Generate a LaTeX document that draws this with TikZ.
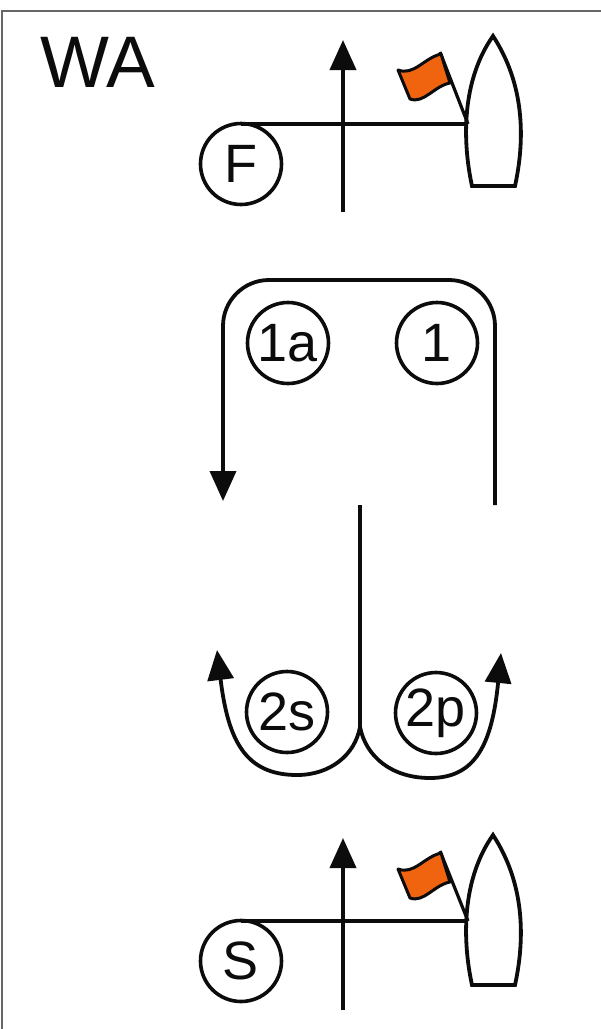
\documentclass[tikz,border=0pt]{standalone}
\usepackage{fontspec}
\setmainfont{Liberation Sans}
\usetikzlibrary{arrows.meta}
\definecolor{flagc}{RGB}{240,100,15}
\definecolor{inkc}{RGB}{12,12,12}
\tikzset{x=1pt,y=-1pt,
 line/.style={draw=inkc,line width=3.8pt},
 arr/.style={line,-{Triangle[length=30pt,width=26pt]}},
 circ/.style={circle,draw=inkc,line width=3.6pt,fill=white,minimum size=81pt,inner sep=0pt,text=inkc,font=\fontsize{54pt}{54pt}\selectfont},
 boat/.style={draw=inkc,line width=3.8pt,fill=white,line join=miter},
 flagp/.style={draw=inkc,line width=3pt,fill=flagc,line join=round},
 frameline/.style={draw=black!60,line width=2.4pt},
 }
\begin{document}
\begin{tikzpicture}
\useasboundingbox (0,0) rectangle (601,1029);
\fill[white] (0,0) rectangle (601,1029);
\draw[frameline] (2,1029) -- (2,11) -- (601,11);
\node[font=\fontsize{73pt}{73pt}\selectfont,text=inkc] (wa) at (98,62) {WA};
% top
\coordinate (t1) at (343,212); \coordinate (t2) at (343,40);
\draw[arr] (t1) -- (t2);
\coordinate (tb) at (468,124);
\node[circ] (F) at (241,164) {F};
\draw[line] (F.north |- tb) -- (tb);
\draw[boat] (472,186) .. controls (462,140) and (462,80) .. (493,36) .. controls (525,85) and (525,140) .. (515,186) -- cycle;
\draw[line,line width=3.2pt] (tb) -- (440,52);
\draw[flagp] (398,70) .. controls (414,76) and (424,58) .. (441,54) -- (450,83) .. controls (434,86) and (424,104) .. (410,99) -- cycle;
% middle
\coordinate (m1) at (495,505); \coordinate (m2) at (223,501);
\draw[arr,rounded corners=46pt] (m1) -- (495,280) -- (223,280) -- (m2);
\node[circ] (n1a) at (288,343) {1a};
\node[circ] (n1) at (437,343) {1};
\coordinate (c) at (360,505);
\coordinate (j) at (360,727);
\draw[line] (c) -- (j);
\draw[arr] (j) .. controls (355,755) and (330,775) .. (297,775) .. controls (245,775) and (228,740) .. (217,650);
\draw[arr] (j) .. controls (366,757) and (392,778) .. (430,778) .. controls (475,778) and (492,745) .. (501,653);
\node[circ] (n2s) at (287,712) {2s};
\node[circ] (n2p) at (436,713) {2p};
% bottom
\coordinate (b1) at (343,1010); \coordinate (b2) at (343,838);
\draw[arr] (b1) -- (b2);
\coordinate (bb) at (468,921);
\node[circ] (S) at (241,961) {S};
\draw[line] (S.north |- bb) -- (bb);
\draw[boat] (472,985) .. controls (462,939) and (462,879) .. (493,835) .. controls (525,884) and (525,939) .. (515,985) -- cycle;
\draw[line,line width=3.2pt] (bb) -- (440,851);
\draw[flagp] (398,869) .. controls (414,875) and (424,857) .. (441,853) -- (450,882) .. controls (434,885) and (424,903) .. (410,898) -- cycle;
\end{tikzpicture}
\end{document}
